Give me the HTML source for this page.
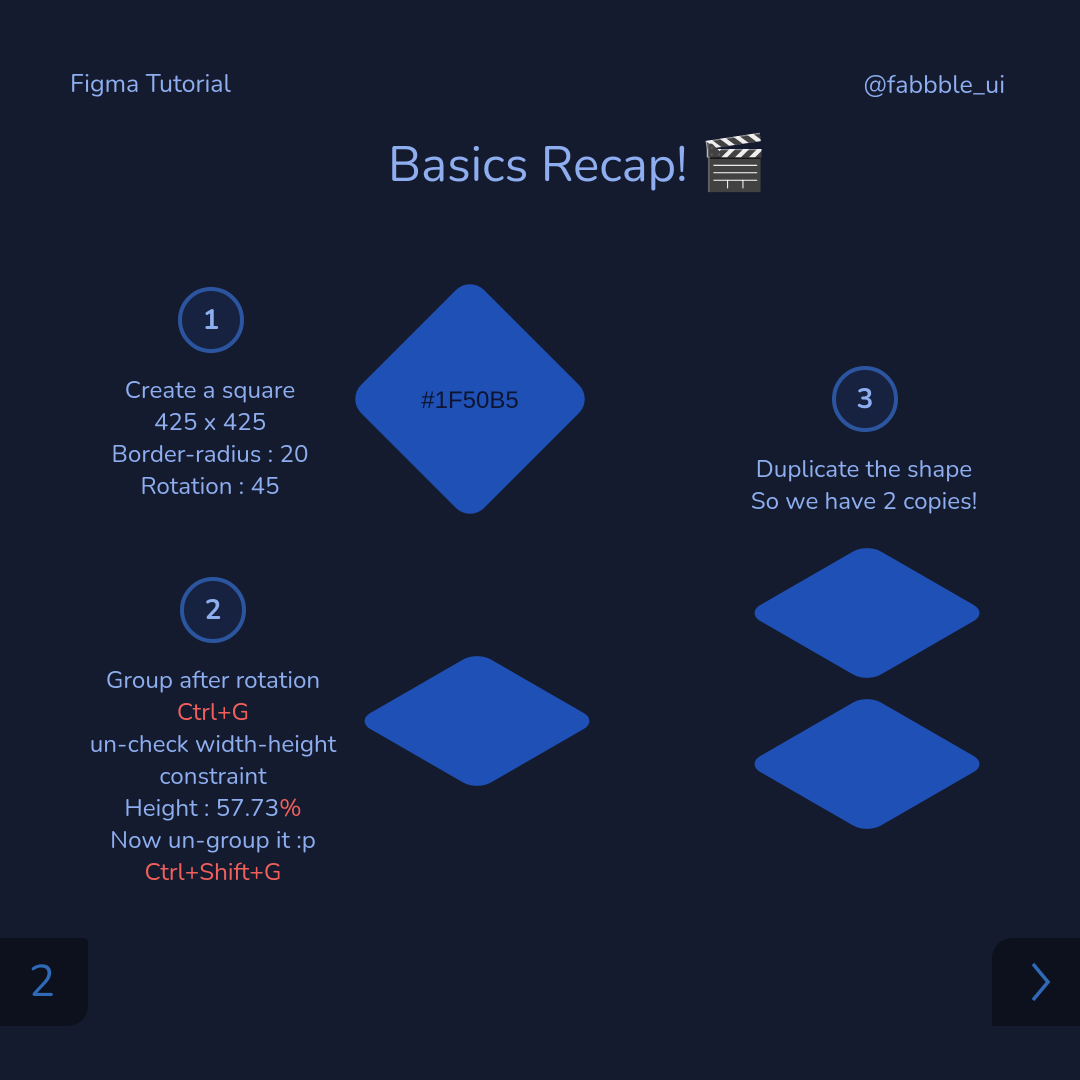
<!DOCTYPE html>
<html><head><meta charset="utf-8"><style>
body{margin:0;width:1080px;height:1080px;background:#141b2f;position:relative;overflow:hidden;font-family:"Nunito","Liberation Sans",sans-serif;}
.t{position:absolute;color:#8eaef0;text-align:center;font-size:24.2px;line-height:32px;}
.r{color:#f2605c}
.c{position:absolute;width:58px;height:58px;border:4px solid #2c55a0;border-radius:50%;background:#16223f;color:#8eaef0;font-size:28px;font-weight:bold;line-height:58px;text-align:center;}
</style></head><body>
<div class="t" style="left:70px;top:68px;text-align:left;font-size:25px">Figma Tutorial</div>
<div class="t" style="right:75px;top:69px;text-align:right;font-size:25px">@fabbble_ui</div>
<div class="t" style="left:388px;top:134px;text-align:left;font-size:49px;line-height:60px;white-space:nowrap">Basics Recap! <span style="font-family:'Noto Color Emoji',sans-serif;font-size:54px">🎬</span></div>
<div class="c" style="left:178px;top:287px">1</div>
<div class="c" style="left:180px;top:577px">2</div>
<div class="c" style="left:832px;top:366px">3</div>
<div class="t" style="left:40px;width:340px;top:375px">Create a square<br>425 x 425<br>Border-radius : 20<br>Rotation : 45</div>
<div class="t" style="left:43px;width:340px;top:665px">Group after rotation<br><span class="r">Ctrl+G</span><br>un-check width-height<br>constraint<br>Height : 57.73<span class="r">%</span><br>Now un-group it :p<br><span class="r">Ctrl+Shift+G</span></div>
<div class="t" style="left:694px;width:340px;top:454px">Duplicate the shape<br>So we have 2 copies!</div>
<svg width="1080" height="1080" style="position:absolute;left:0;top:0">
<g fill="#1f50b5">
<rect x="-87" y="-87" width="174" height="174" rx="20" transform="translate(470,399) rotate(45)"/>
<rect x="-87" y="-87" width="174" height="174" rx="20" transform="translate(477,721) scale(0.98,0.565) rotate(45)"/>
<rect x="-87" y="-87" width="174" height="174" rx="20" transform="translate(867,613) scale(0.98,0.565) rotate(45)"/>
<rect x="-87" y="-87" width="174" height="174" rx="20" transform="translate(867,764) scale(0.98,0.565) rotate(45)"/>
</g>
<text x="470" y="408" text-anchor="middle" font-family="Liberation Sans" font-size="24" fill="#0d1530">#1F50B5</text>
</svg>
<div style="position:absolute;left:0;top:938px;width:88px;height:88px;background:#0c111d;border-radius:0 0 20px 0;border-top-right-radius:4px;color:#2f6ab8;font-size:44px;line-height:88px;text-align:center;padding-right:4px;box-sizing:border-box">2</div>
<div style="position:absolute;left:992px;top:938px;width:88px;height:88px;background:#0c111d;border-radius:20px 0 0 0;"></div>
<svg width="1080" height="1080" style="position:absolute;left:0;top:0"><polyline points="1033,964 1048,982 1033,1000" fill="none" stroke="#2f6ab8" stroke-width="3.5"/></svg>
</body></html>
